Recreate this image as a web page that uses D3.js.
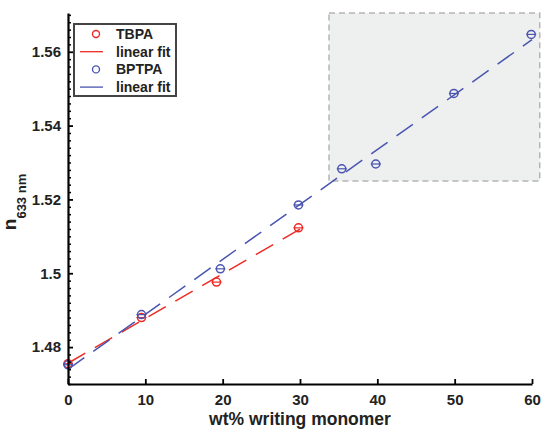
<!DOCTYPE html>
<meta charset="utf-8">
<head>
<script src="https://d3js.org/d3.v7.min.js"></script>
<style>
  body { margin: 0; background: #fff; }
  text { font-family: "Liberation Sans", Arial, sans-serif; font-weight: bold; }
</style>
</head>
<body>
<svg width="543" height="429"></svg>
<script>
// data
var tbpaX = [0, 9.5, 19.2, 29.8];
var tbpaY = [1.4755, 1.4880, 1.4976, 1.5123];
var bptpaX = [0, 9.5, 19.7, 29.8, 35.4, 39.8, 49.9, 59.9];
var bptpaY = [1.4752, 1.4888, 1.5012, 1.5185, 1.5283, 1.5296, 1.5487, 1.5647];
var xTicks = [0, 10, 20, 30, 40, 50, 60];
var yTicks = [1.48, 1.5, 1.52, 1.54, 1.56];
var zoomBox = {x0: 33.75, x1: 61, y0: 1.525, y1: 1.5705};

var svg = d3.select("svg");
var plotL = 68, plotR = 532, plotT = 13, plotB = 384;

var x = d3.scaleLinear().domain([0, 60]).range([plotL, plotR]);
var y = d3.scaleLinear().domain([1.47, 1.5705]).range([plotB, plotT]);

function fit(xs, ys) {
    var mx = d3.mean(xs), my = d3.mean(ys), sxy = 0, sxx = 0;
    xs.forEach(function(v, i) { sxy += (v - mx) * (ys[i] - my); sxx += (v - mx) * (v - mx); });
    var b = sxy / sxx;
    return {b: b, a: my - b * mx};
}

// shaded zoom region
svg.append("rect")
    .attr("x", x(zoomBox.x0)).attr("y", y(zoomBox.y1))
    .attr("width", x(zoomBox.x1) - x(zoomBox.x0))
    .attr("height", y(zoomBox.y0) - y(zoomBox.y1))
    .attr("fill", "#eeefef")
    .attr("stroke", "#b5b5b5")
    .attr("stroke-width", 1.5)
    .attr("stroke-dasharray", "6,4");

var series = [
    {xs: tbpaX, ys: tbpaY, color: "#ee2a24", x1: 30},
    {xs: bptpaX, ys: bptpaY, color: "#4a55b0", x1: 60}
];

var line = d3.line().x(function(d) { return x(d[0]); }).y(function(d) { return y(d[1]); });

series.forEach(function(s) {
    var f = fit(s.xs, s.ys);
    svg.append("path")
        .datum([[0, f.a], [s.x1, f.a + f.b * s.x1]])
        .attr("d", line)
        .attr("fill", "none")
        .attr("stroke", s.color)
        .attr("stroke-width", 1.5)
        .attr("stroke-dasharray", "20,11");
});

series.forEach(function(s) {
    var g = svg.append("g").selectAll("g")
        .data(s.xs.map(function(v, i) { return [v, s.ys[i]]; }))
        .enter().append("g");
    g.append("circle")
        .attr("cx", function(d) { return x(d[0]); })
        .attr("cy", function(d) { return y(d[1]); })
        .attr("r", 4)
        .attr("fill", "none")
        .attr("stroke", s.color)
        .attr("stroke-width", 1.5);
    g.append("line")
        .attr("x1", function(d) { return x(d[0]) - 5; })
        .attr("x2", function(d) { return x(d[0]) + 5; })
        .attr("y1", function(d) { return y(d[1]); })
        .attr("y2", function(d) { return y(d[1]); })
        .attr("stroke", s.color)
        .attr("stroke-width", 1.2);
});

// axes
var xAxis = svg.append("g")
    .attr("transform", "translate(0," + plotB + ")")
    .call(d3.axisBottom(x).tickValues(xTicks).tickSizeInner(-5).tickSizeOuter(0).tickPadding(10).tickFormat(d3.format("d")));
xAxis.select(".domain").attr("stroke-width", 2.2);
xAxis.selectAll(".tick line").attr("stroke-width", 1.8);
xAxis.selectAll("text").attr("font-size", 15).attr("fill", "#222");

var minor = d3.range(1.47, 1.5705, 0.002).filter(function(v) {
    return Math.abs(Math.round(v * 50) - v * 50) > 0.01;
});
svg.append("g")
    .attr("transform", "translate(" + plotL + ",0)")
    .call(d3.axisLeft(y).tickValues(minor).tickSize(-3).tickFormat(""))
    .call(function(g) { g.select(".domain").remove(); g.selectAll("line").attr("stroke-width", 1.5); });

var yAxis = svg.append("g")
    .attr("transform", "translate(" + plotL + ",0)")
    .call(d3.axisLeft(y).tickValues(yTicks).tickSizeInner(-5).tickSizeOuter(0).tickPadding(7).tickFormat(function(d) { return String(+d.toFixed(2)); }));
yAxis.select(".domain").attr("stroke-width", 2.2);
yAxis.selectAll(".tick line").attr("stroke-width", 1.8);
yAxis.selectAll("text").attr("font-size", 15).attr("fill", "#222");

// axis titles
svg.append("text")
    .attr("x", x(30)).attr("y", 425)
    .attr("text-anchor", "middle")
    .attr("font-size", 17.5)
    .attr("fill", "#222")
    .text("wt% writing monomer");

var yt = svg.append("text")
    .attr("transform", "translate(16,202) rotate(-90)")
    .attr("text-anchor", "middle")
    .attr("fill", "#222");
yt.append("tspan").attr("font-size", 19).text("n");
yt.append("tspan").attr("font-size", 13).attr("dy", 10).text("633 nm");

// legend
var lg = svg.append("g");
lg.append("rect")
    .attr("x", 74).attr("y", 24).attr("width", 102).attr("height", 72)
    .attr("fill", "#fff").attr("stroke", "#444").attr("stroke-width", 2);
var items = [
    {label: "TBPA", color: series[0].color, type: "marker"},
    {label: "linear fit", color: series[0].color, type: "line"},
    {label: "BPTPA", color: series[1].color, type: "marker"},
    {label: "linear fit", color: series[1].color, type: "line"}
];
items.forEach(function(it, i) {
    var cy = 34 + i * 17.7;
    if (it.type === "marker") {
        lg.append("circle").attr("cx", 96).attr("cy", cy).attr("r", 3.5)
            .attr("fill", "none").attr("stroke", it.color).attr("stroke-width", 1.4);
    } else {
        lg.append("line").attr("x1", 80).attr("x2", 103).attr("y1", cy).attr("y2", cy)
            .attr("stroke", it.color).attr("stroke-width", 1.3);
    }
    lg.append("text").attr("x", 116).attr("y", cy + 5)
        .attr("font-size", 14).attr("fill", "#222").text(it.label);
});
</script>
</body>
